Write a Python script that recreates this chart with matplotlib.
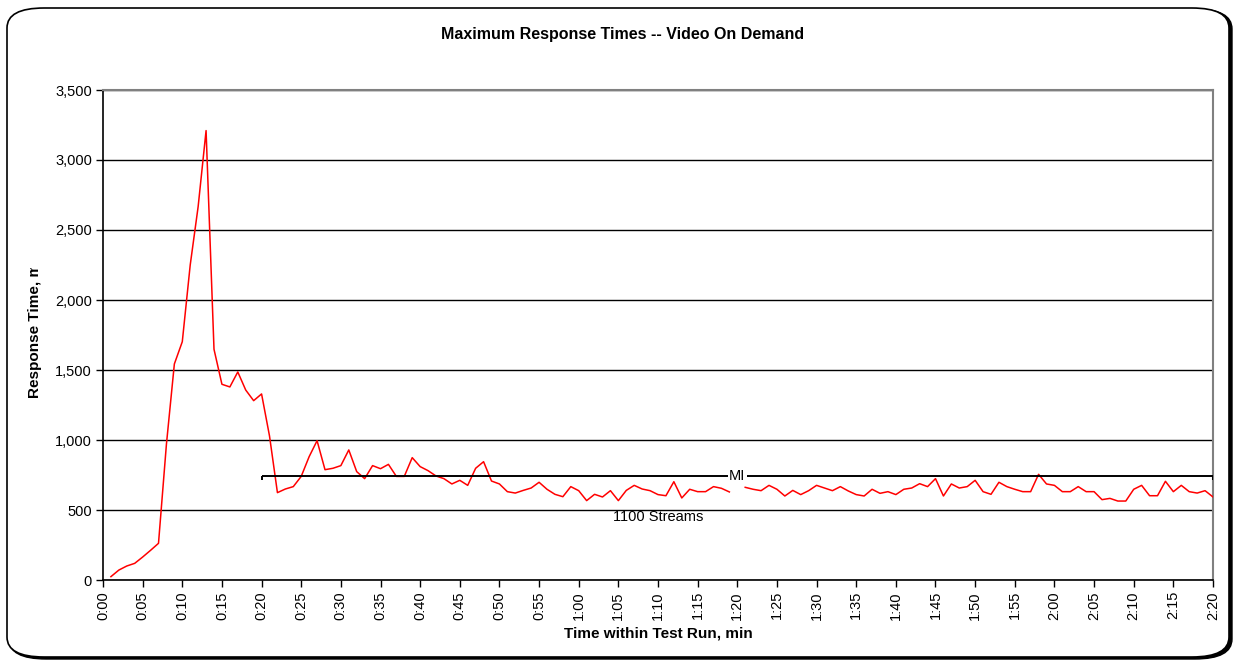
import numpy as np
import matplotlib
matplotlib.use("Agg")
import matplotlib.pyplot as plt
from matplotlib.patches import FancyBboxPatch
from matplotlib.transforms import Bbox

plt.rcParams['font.family'] = ['Liberation Sans', 'DejaVu Sans']

title = "Maximum Response Times -- Video On Demand"
x_label = "Time within Test Run, min"
y_label = "Response Time, ms"

minutes = list(range(1, 141))
response_ms = [
    24, 71, 100, 119, 164, 212, 262, 970, 1543, 1702,
    2250, 2667, 3210, 1648, 1398, 1379, 1486, 1357, 1281, 1329,
    1029, 624, 650, 667, 740, 881, 995, 788, 798, 817,
    929, 774, 724, 817, 795, 826, 740, 740, 874, 810,
    781, 743, 724, 686, 712, 676, 798, 845, 707, 686,
    631, 621, 640, 657, 698, 648, 612, 595, 667, 638,
    567, 612, 593, 638, 567, 640, 676, 650, 638, 610,
    602, 702, 586, 648, 631, 631, 667, 655, 629, np.nan,
    662, 648, 638, 676, 648, 600, 640, 610, 638, 676,
    657, 638, 667, 636, 610, 600, 648, 619, 631, 610,
    648, 657, 688, 667, 724, 600, 686, 657, 667, 712,
    631, 612, 698, 667, 648, 631, 631, 755, 686, 676,
    631, 631, 667, 631, 631, 574, 583, 564, 564, 648,
    676, 602, 602, 705, 631, 676, 631, 621, 638, 593,
]

y_ticks = [0, 500, 1000, 1500, 2000, 2500, 3000, 3500]
x_ticks = list(range(0, 141, 5))
x_tick_labels = [f"{m // 60}:{m % 60:02d}" for m in x_ticks]

interval_start, interval_end, interval_level = 20, 140, 743
interval_label = "MI"
interval_note = "1100 Streams"
note_position = (70, 450)

fig = plt.figure(figsize=(12.38, 6.64), dpi=100)

# rounded frame with shadow
shadow = FancyBboxPatch((9 / 1238, 5 / 664), 1223 / 1238, 650 / 664,
                        boxstyle="round,pad=0,rounding_size=0.03",
                        transform=fig.transFigure, facecolor='black',
                        edgecolor='black', lw=1.0, zorder=-2)
fig.patches.append(shadow)
frame = FancyBboxPatch((7 / 1238, 7 / 664), 1222 / 1238, 649 / 664,
                       boxstyle="round,pad=0,rounding_size=0.03",
                       transform=fig.transFigure, facecolor='white',
                       edgecolor='black', lw=1.2, zorder=-1)
fig.patches.append(frame)

ax = fig.add_axes([103 / 1238, 84 / 664, 1110 / 1238, 490 / 664])
ax.set_zorder(2)
ax.set_facecolor('none')

ax.plot(minutes, response_ms, color='#ff0000', lw=1.1, zorder=3)

ax.set_xlim(0, 140)
ax.set_ylim(0, 3500)
ax.set_yticks(y_ticks)
ax.set_yticklabels([f"{v:,}" for v in y_ticks])
ax.set_xticks(x_ticks)
ax.set_xticklabels(x_tick_labels, rotation=90)
ax.tick_params(axis='both', direction='out', length=5, width=1, color='black',
               labelsize=10.5, pad=3)
ax.yaxis.grid(True, color='black', lw=1.0)
ax.set_axisbelow(True)

for s in ['left', 'bottom']:
    ax.spines[s].set_color('black')
    ax.spines[s].set_linewidth(1.2)
for s in ['top', 'right']:
    ax.spines[s].set_color('#808080')
    ax.spines[s].set_linewidth(1.5)

# measurement interval bracket
ax.hlines(interval_level, interval_start, interval_end, color='black', lw=1.4, zorder=4)
ax.vlines(interval_start, interval_level - 30, interval_level, color='black', lw=1.4, zorder=4)
ax.vlines(interval_end, interval_level - 30, interval_level, color='black', lw=1.4, zorder=4)
mid = (interval_start + interval_end) / 2
ax.text(mid, interval_level, interval_label, ha='center', va='center', fontsize=10.5,
        bbox=dict(facecolor='white', edgecolor='none', pad=1.0), zorder=5)
ax.text(note_position[0], note_position[1], interval_note, ha='center', va='center',
        fontsize=10.5, zorder=5)

fig.text(623 / 1238, 1 - 35 / 664, title, ha='center', va='center', fontsize=11.5,
         fontweight='bold', zorder=3)
fig.text(658 / 1238, 1 - 634 / 664, x_label, ha='center', va='center', fontsize=11,
         fontweight='bold', zorder=3)
yl = fig.text(35 / 1238, 1 - 398 / 664, y_label, ha='left', va='center', rotation=90,
              fontsize=11, fontweight='bold', rotation_mode='anchor', zorder=3)
yl.set_clip_box(Bbox.from_extents(0, 664 - 400, 80, 664 - 268))
yl.set_clip_on(True)

fig.savefig("out.png", dpi=100)
